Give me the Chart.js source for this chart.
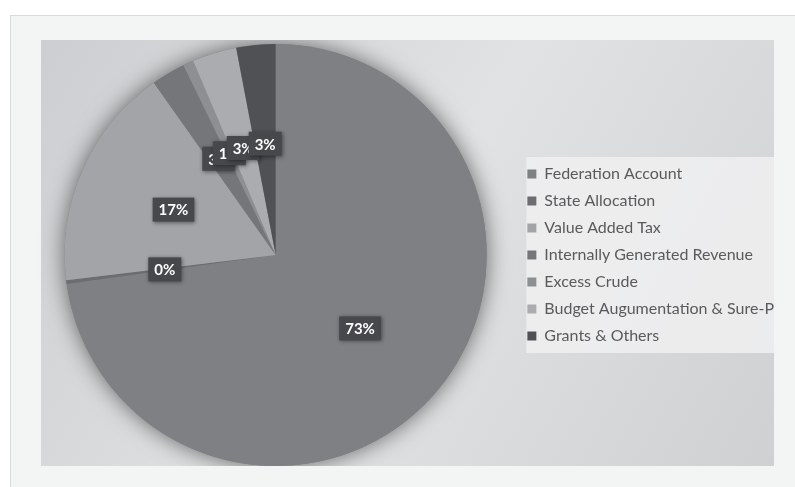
<!DOCTYPE html>
<html>
<head>
<meta charset="utf-8">
<script src="https://cdn.jsdelivr.net/npm/chart.js@4/dist/chart.umd.min.js"></script>
<style>
  html, body { margin: 0; padding: 0; background: #ffffff; }
  body { width: 795px; height: 487px; overflow: hidden; position: relative; }
  #frame {
    position: absolute; left: 10px; top: 15px; width: 800px; height: 480px;
    background: #f3f4f4; border: 1px solid #d9dadb;
  }
  #wrap { position: absolute; left: 35px; top: 40px; width: 749px; height: 426px; }
</style>
</head>
<body>
<div id="frame"></div>
<div id="wrap"><canvas id="chartPie"></canvas></div>
<script>
// Categorías y valores (porcentajes)
const categorias = [
    'Federation Account',
    'State Allocation',
    'Value Added Tax',
    'Internally Generated Revenue',
    'Excess Crude',
    'Budget Augumentation & Sure-P',
    'Grants & Others'
];
const valores = [72.8, 0.3, 17.1, 2.6, 0.8, 3.4, 3.0];
const colores = ['#7f8084', '#6c6d71', '#a3a4a7', '#75767a', '#8e8f93', '#abacaf', '#505155'];

// Fondo del área del gráfico, caja de leyenda y sombra de la tarta
const fondoPlugin = {
    id: 'fondo',
    beforeDraw(chart) {
        const { ctx, height } = chart;
        const x0 = 6;
        const ancho = chart.width - 10;
        ctx.save();
        const g = ctx.createLinearGradient(x0, 0, ancho, height);
        g.addColorStop(0, '#cdced1');
        g.addColorStop(0.5, '#e1e2e3');
        g.addColorStop(1, '#cfd0d2');
        ctx.fillStyle = g;
        ctx.fillRect(x0, 0, ancho - x0, height);
        const lg = chart.legend;
        if (lg && lg.legendHitBoxes && lg.legendHitBoxes.length) {
            const cajas = lg.legendHitBoxes;
            const top = cajas[0].top - 9;
            const bottom = cajas[cajas.length - 1].top + cajas[cajas.length - 1].height + 9;
            ctx.fillStyle = 'rgba(240,240,241,0.85)';
            ctx.fillRect(cajas[0].left - 1, top, ancho - cajas[0].left + 1, bottom - top);
        }
        ctx.restore();
    },
    beforeDatasetsDraw(chart) {
        const arc = chart.getDatasetMeta(0).data[0];
        if (!arc) return;
        const { x, y, outerRadius } = arc.getProps(['x', 'y', 'outerRadius'], true);
        const ctx = chart.ctx;
        ctx.save();
        ctx.shadowColor = 'rgba(0,0,0,0.55)';
        ctx.shadowBlur = 22;
        ctx.fillStyle = '#7f8084';
        ctx.beginPath();
        ctx.arc(x, y, outerRadius, 0, Math.PI * 2);
        ctx.fill();
        ctx.restore();
    }
};

// Etiquetas de porcentaje en cajas oscuras
const etiquetasPlugin = {
    id: 'etiquetas',
    afterDatasetsDraw(chart) {
        const ctx = chart.ctx;
        const meta = chart.getDatasetMeta(0);
        const total = valores.reduce((a, b) => a + b, 0);
        ctx.save();
        ctx.font = 'bold 15px Lato, "Open Sans", sans-serif';
        ctx.textAlign = 'center';
        ctx.textBaseline = 'middle';
        meta.data.forEach((arc, i) => {
            const p = arc.getProps(['x', 'y', 'startAngle', 'endAngle', 'outerRadius'], true);
            const mid = (p.startAngle + p.endAngle) / 2;
            const r = p.outerRadius * 0.53;
            const cx = p.x + Math.cos(mid) * r;
            const cy = p.y + Math.sin(mid) * r;
            const txt = Math.round(valores[i] / total * 100) + '%';
            const w = ctx.measureText(txt).width + 12;
            const h = 24;
            ctx.shadowColor = 'rgba(0,0,0,0.45)';
            ctx.shadowBlur = 4;
            ctx.shadowOffsetX = 1;
            ctx.shadowOffsetY = 1;
            ctx.fillStyle = '#47484b';
            ctx.fillRect(cx - w / 2, cy - h / 2, w, h);
            ctx.shadowColor = 'transparent';
            ctx.fillStyle = '#ffffff';
            ctx.fillText(txt, cx, cy + 1);
        });
        ctx.restore();
    }
};

const ctxPie = document.getElementById('chartPie');
const chartPie = new Chart(ctxPie, {
    type: 'pie',
    data: {
        labels: categorias,
        datasets: [{
            data: valores,
            backgroundColor: colores,
            borderWidth: 0
        }]
    },
    options: {
        responsive: true,
        maintainAspectRatio: false,
        animation: false,
        layout: { padding: { top: 4, bottom: 0, left: 0, right: 0 } },
        plugins: {
            legend: {
                position: 'right',
                align: 'center',
                labels: {
                    boxWidth: 9,
                    boxHeight: 9,
                    padding: 11,
                    color: '#5a5a5c',
                    font: { family: 'Lato, "Open Sans", sans-serif', size: 16 }
                }
            },
            tooltip: { enabled: false }
        }
    },
    plugins: [fondoPlugin, etiquetasPlugin]
});
</script>
</body>
</html>
